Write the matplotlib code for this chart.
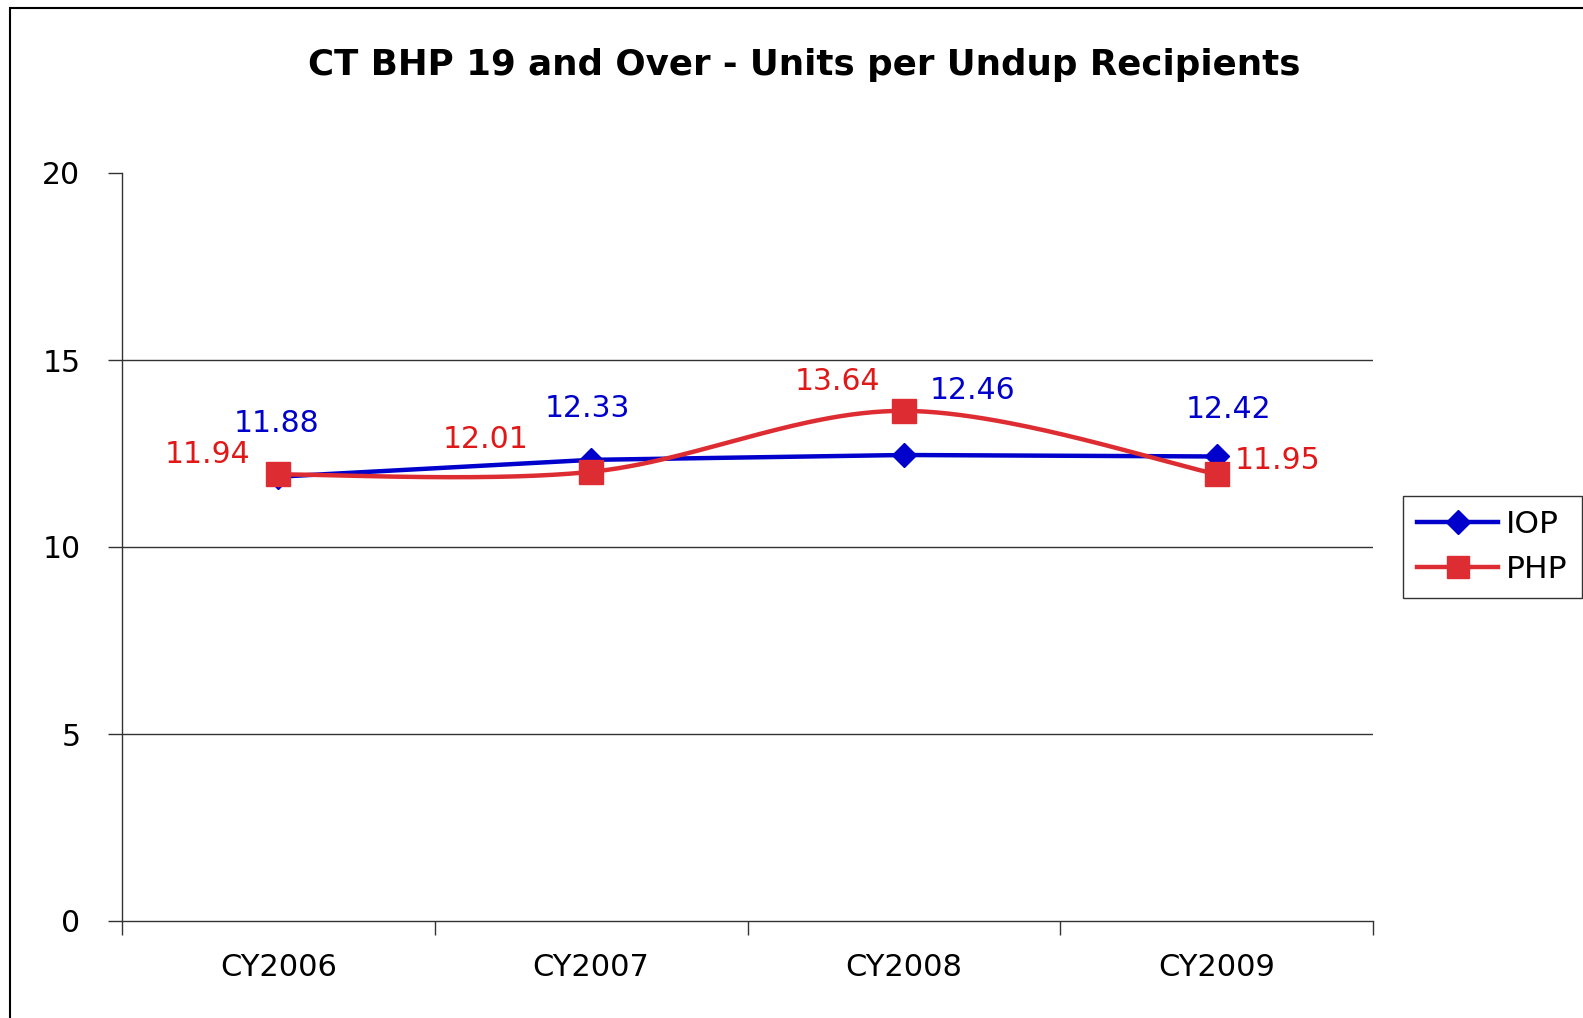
import matplotlib
matplotlib.use("Agg")
import matplotlib.pyplot as plt
import numpy as np
from matplotlib.patches import Rectangle

categories = ["CY2006", "CY2007", "CY2008", "CY2009"]
iop = [11.88, 12.33, 12.46, 12.42]
php = [11.94, 12.01, 13.64, 11.95]
y_ticks = [0, 5, 10, 15, 20]

BLUE = "#0000CC"
RED = "#DE2D32"
RED_TXT = "#E01818"

plt.rcParams['font.family'] = ['DejaVu Sans']

W, H = 1583, 1018
fig = plt.figure(figsize=(W / 100, H / 100), dpi=100)
ax = fig.add_axes([122 / W, 1 - 921 / H, (1373 - 122) / W, (921 - 173) / H])

x = np.arange(len(categories))
ax.set_xlim(-0.5, len(categories) - 0.5)
ax.set_ylim(0, 20)

# gridlines
for yv in y_ticks[1:-1]:
    ax.axhline(yv, color="#333333", lw=1.0, zorder=0)

# IOP straight line
ax.plot(x, iop, color=BLUE, lw=3.2, marker="D", markersize=12,
        markerfacecolor=BLUE, markeredgecolor=BLUE, zorder=3, label="IOP")

# PHP smoothed (Excel-style bezier) computed in display space
fig.canvas.draw()
pts = ax.transData.transform(np.column_stack([x, php]))
n = len(pts)
samples = []
for i in range(n - 1):
    p0 = pts[max(i - 1, 0)]
    p1 = pts[i]
    p2 = pts[i + 1]
    p3 = pts[min(i + 2, n - 1)]
    c1 = p1 + (p2 - p0) / 6.0
    c2 = p2 - (p3 - p1) / 6.0
    t = np.linspace(0, 1, 60)[:, None]
    b = ((1 - t) ** 3) * p1 + 3 * ((1 - t) ** 2) * t * c1 + 3 * (1 - t) * t ** 2 * c2 + t ** 3 * p2
    samples.append(b)
samples = np.vstack(samples)
data_curve = ax.transData.inverted().transform(samples)
ax.plot(data_curve[:, 0], data_curve[:, 1], color=RED, lw=3.2, zorder=4)
ax.plot(x, php, linestyle="none", marker="s", markersize=17,
        markerfacecolor=RED, markeredgecolor=RED, zorder=5)
# legend proxy
ax.plot([], [], color=RED, lw=3.2, marker="s", markersize=15.5,
        markerfacecolor=RED, markeredgecolor=RED, label="PHP")

# data labels (offsets in pixels)
iop_off = [(-2, -53), (-4, -51), (69, -64), (12, -47)]
php_off = [(-71, -20), (-106, -32), (-66, -29), (61, -14)]
for xi, v, (dx, dy) in zip(x, iop, iop_off):
    ax.annotate(f"{v:.2f}", (xi, v), xytext=(dx, -dy), textcoords="offset pixels",
                ha="center", va="center", fontsize=21.5, color=BLUE, zorder=6)
for xi, v, (dx, dy) in zip(x, php, php_off):
    ax.annotate(f"{v:.2f}", (xi, v), xytext=(dx, -dy), textcoords="offset pixels",
                ha="center", va="center", fontsize=21.5, color=RED_TXT, zorder=6)

# axes styling
for s in ["top", "right"]:
    ax.spines[s].set_visible(False)
for s in ["left", "bottom"]:
    ax.spines[s].set_color("#333333")
    ax.spines[s].set_linewidth(1.0)
ax.set_yticks(y_ticks)
ax.set_yticklabels([str(v) for v in y_ticks], fontsize=21.5)
ax.tick_params(axis="y", direction="out", length=10, width=1, color="#333333", pad=20)
ax.set_xticks(x)
ax.set_xticklabels(categories, fontsize=22)
ax.tick_params(axis="x", which="major", length=0, pad=23)
ax.set_xticks(np.arange(-0.5, len(categories)), minor=True)
ax.tick_params(axis="x", which="minor", direction="out", length=10, width=1, color="#333333")

# title
fig.text(804 / W, 1 - 65 / H, "CT BHP 19 and Over - Units per Undup Recipients",
         ha="center", va="center", fontsize=25.7, fontweight="bold")

# legend
leg = fig.legend(loc="upper left", bbox_to_anchor=(1403 / W, 1 - 496 / H),
                 fontsize=22.5, frameon=True, fancybox=False, shadow=False,
                 handlelength=2.6, handletextpad=0.25, borderpad=0.45,
                 labelspacing=0.5, borderaxespad=0)
leg.get_frame().set_edgecolor("black")
leg.get_frame().set_linewidth(1.0)

# outer chart border (cropped on right/bottom)
fig.patches.append(Rectangle((10 / W, -0.1), 2.0, 1.1 - 8 / H, transform=fig.transFigure,
                             fill=False, edgecolor="black", linewidth=1.5))

fig.savefig("out.png", dpi=100)
